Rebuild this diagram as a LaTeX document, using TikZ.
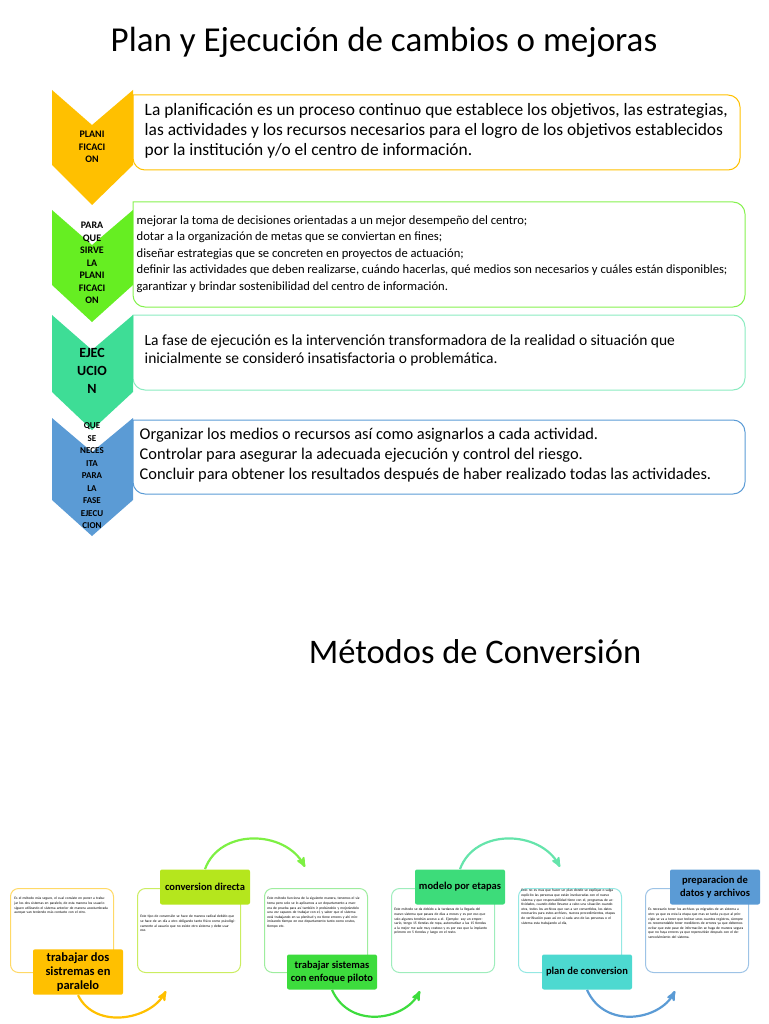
\documentclass[tikz,border=0pt]{standalone}
\usepackage{fontspec}
\setmainfont{Carlito}
\usetikzlibrary{arrows}

\definecolor{orangeC}{HTML}{FFC000}
\definecolor{limeC}{HTML}{66EE22}
\definecolor{tealC}{HTML}{3EDD96}
\definecolor{blueC}{HTML}{5B9BD5}
\definecolor{limeL}{HTML}{B5E61D}
\definecolor{greenP}{HTML}{3DDC3D}
\definecolor{greenE}{HTML}{3DDC7A}
\definecolor{cyanC}{HTML}{4DD9D0}

\begin{document}
\begin{tikzpicture}[x=1pt,y=-1pt,>=stealth',thick,
  big text/.style={anchor=west,align=left,font=\fontsize{17.4}{20}\selectfont},
  chev text/.style={align=center,font=\bfseries\fontsize{10}{12.5}\selectfont},
  small box/.style={draw,rounded corners=8pt,line width=1pt,fill=white,minimum width=103pt,minimum height=84pt,anchor=north west},
  small text/.style={anchor=north west,text width=95pt,align=left,font=\fontsize{3.6}{4.6}\selectfont,inner sep=0pt},
  tag/.style={rounded corners=2pt,minimum width=90pt,minimum height=35pt,align=center,font=\bfseries\fontsize{10.5}{12.5}\selectfont},
  arc/.style={->,line width=2.2pt}]

  \useasboundingbox (0,0) rectangle (768,1024);

  \node (title) at (384,42) {\fontsize{35}{40}\selectfont Plan y Ejecución de cambios o mejoras};
  \node (title2) at (475,652) {\fontsize{34.5}{40}\selectfont Métodos de Conversión};

  % boxes, sharp on the chevron side
  \draw[orangeC,line width=1pt,rounded corners=12pt] (133,95) -- (740,95) -- (740,170) -- (133,170) [sharp corners] -- cycle;
  \draw[limeC!80,line width=1pt,rounded corners=12pt] (133,202) -- (745,202) -- (745,307) -- (133,307) [sharp corners] -- cycle;
  \draw[tealC!60,line width=1pt,rounded corners=12pt] (133,315) -- (745,315) -- (745,390) -- (133,390) [sharp corners] -- cycle;
  \draw[blueC,line width=1pt,rounded corners=12pt] (133,420) -- (745,420) -- (745,494) -- (133,494) [sharp corners] -- cycle;

  \fill[orangeC] (52,90) -- (92,125) -- (133,90) -- (133,165) -- (92,205) -- (52,165) -- cycle;
  \fill[limeC] (52,210) -- (92,245) -- (133,210) -- (133,285) -- (92,322) -- (52,285) -- cycle;
  \fill[tealC] (52,315) -- (92,350) -- (133,315) -- (133,392) -- (92,430) -- (52,392) -- cycle;
  \fill[blueC] (52,418) -- (92,452) -- (133,418) -- (133,500) -- (92,536) -- (52,500) -- cycle;

  \node[chev text] (c1) at (92,147) {PLANI\\FICACI\\ON};
  \node[chev text] (c2) at (92,263) {PARA\\QUE\\SIRVE\\LA\\PLANI\\FICACI\\ON};
  \node[chev text,font=\bfseries\fontsize{14}{18}\selectfont] (c3) at (92,371) {EJEC\\UCIO\\N};
  \node[chev text,font=\bfseries\fontsize{9}{12.5}\selectfont] (c4) at (92,476) {QUE\\SE\\NECES\\ITA\\PARA\\LA\\FASE\\EJECU\\CION};

  \node[big text] (t1) at (141,131) {La planificación es un proceso continuo que establece los objetivos, las estrategias,\\las actividades y los recursos necesarios para el logro de los objetivos establecidos\\por la institución y/o el centro de información.};
  \node[big text,font=\fontsize{12.6}{16.5}\selectfont] (t2) at (133,254) {mejorar la toma de decisiones orientadas a un mejor desempeño del centro;\\dotar a la organización de metas que se conviertan en fines;\\diseñar estrategias que se concreten en proyectos de actuación;\\definir las actividades que deben realizarse, cuándo hacerlas, qué medios son necesarios y cuáles están disponibles;\\garantizar y brindar sostenibilidad del centro de información.};
  \node[big text,font=\fontsize{15.5}{18}\selectfont] (t3) at (141,350) {La fase de ejecución es la intervención transformadora de la realidad o situación que\\inicialmente se consideró insatisfactoria o problemática.};
  \node[big text,font=\fontsize{16.4}{20}\selectfont] (t4) at (136,455) {Organizar los medios o recursos así como asignarlos a cada actividad.\\Controlar para asegurar la adecuada ejecución y control del riesgo.\\Concluir para obtener los resultados después de haber realizado todas las actividades.};

  % conversion methods
  \node[small box,draw=orangeC!60] (bA) at (10,888) {};
  \node[small box,draw=limeL!70] (bB) at (137,888) {};
  \node[small box,draw=greenP!50] (bC) at (264,888) {};
  \node[small box,draw=greenE!50] (bD) at (391,888) {};
  \node[small box,draw=cyanC!60] (bE) at (518,888) {};
  \node[small box,draw=blueC!60] (bF) at (645,888) {};

  \node[small text] (sA) at (14,897) {Es el método más seguro, el cual consiste en poner a trabajar los dos sistemas en paralelo, de esta manera los usuario siguen utilizando el sistema anterior de manera acostumbrada aunque van teniendo más contacto con el otro.};
  \node[small text] (sB) at (140,915) {Este tipo de conversión se hace de manera radical debido que se hace de un día a otro obligando tanto físico como psicológicamente al usuario que no existe otro sistema y debe usar ese.};
  \node[small text] (sC) at (267,897) {Este método funciona de la siguiente manera, tenemos el sistema pero solo se lo aplicamos a un departamento a manera de prueba para así también ir probándolo y mejorándolo una vez capaces de trabajar con el, y saber que el sistema está trabajando en su plenitud y no tiene errores y ahí minimizando tiempo en ese departamento tanto como costos, tiempo etc.};
  \node[small text] (sD) at (394,908) {Este método se da debido a la tardanza de la llegada del nuevo sistema que pasara de días a meses y es por eso que solo algunos tendrán acceso a el. Ejemplo: soy un empresario, tengo 15 tiendas de ropa, automatizar a las 15 tiendas a la mejor me sale muy costoso y es por eso que la implanto primero en 5 tiendas y luego en el resto.};
  \node[small text] (sE) at (521,889) {Esto no es mas que hacer un plan donde se explique o salga explícito las personas que están involucradas con el nuevo sistema y que responsabilidad tiene con el, programas de actividades, cuando debe llevarse a cabo una situación cuando otra, todos los archivos que van a ser convertidos, los datos necesarios para estos archivos, nuevos procedimientos, etapas de verificación paso así en si cada uno de las personas o el sistema esta trabajando al día,};
  \node[small text] (sF) at (648,908) {Es necesario tener los archivos ya migrados de un sistema a otro ya que es esta la etapa que mas se tarda ya que al principio se va a tener que teclear unos cuantos registros, siempre es recomendable tener medidores de errores ya que debemos evitar que este pase de información se haga de manera segura que no haya errores ya que repercutirán después con el desenvolvimiento del sistema.};

  \node[tag,fill=orangeC,font=\bfseries\fontsize{12.5}{14}\selectfont] (pA) at (78,972) {trabajar dos\\sistremas en\\paralelo};
  \node[tag,fill=limeL] (pB) at (205,887) {conversion directa};
  \node[tag,fill=greenP] (pC) at (332,972) {trabajar sistemas\\con enfoque piloto};
  \node[tag,fill=greenE] (pD) at (460,887) {modelo por etapas};
  \node[tag,fill=cyanC] (pE) at (587,972) {plan de conversion};
  \node[tag,fill=blueC] (pF) at (715,887) {preparacion de\\datos y archivos};

  \coordinate (eA) at (166,991);
  \coordinate (eB) at (305,867);
  \coordinate (eC) at (420,991);
  \coordinate (eD) at (560,867);
  \coordinate (eE) at (675,991);

  \draw[arc,orangeC] (pA.south) .. controls (95,1030) and (150,1020) .. (eA);
  \draw[arc,limeC!85] (pB.north) .. controls (220,828) and (285,830) .. (eB);
  \draw[arc,greenP] (pC.south) .. controls (350,1030) and (405,1020) .. (eC);
  \draw[arc,tealC!80] (pD.north) .. controls (475,828) and (540,830) .. (eD);
  \draw[arc,blueC] (pE.south) .. controls (605,1030) and (660,1020) .. (eE);
\end{tikzpicture}
\end{document}
